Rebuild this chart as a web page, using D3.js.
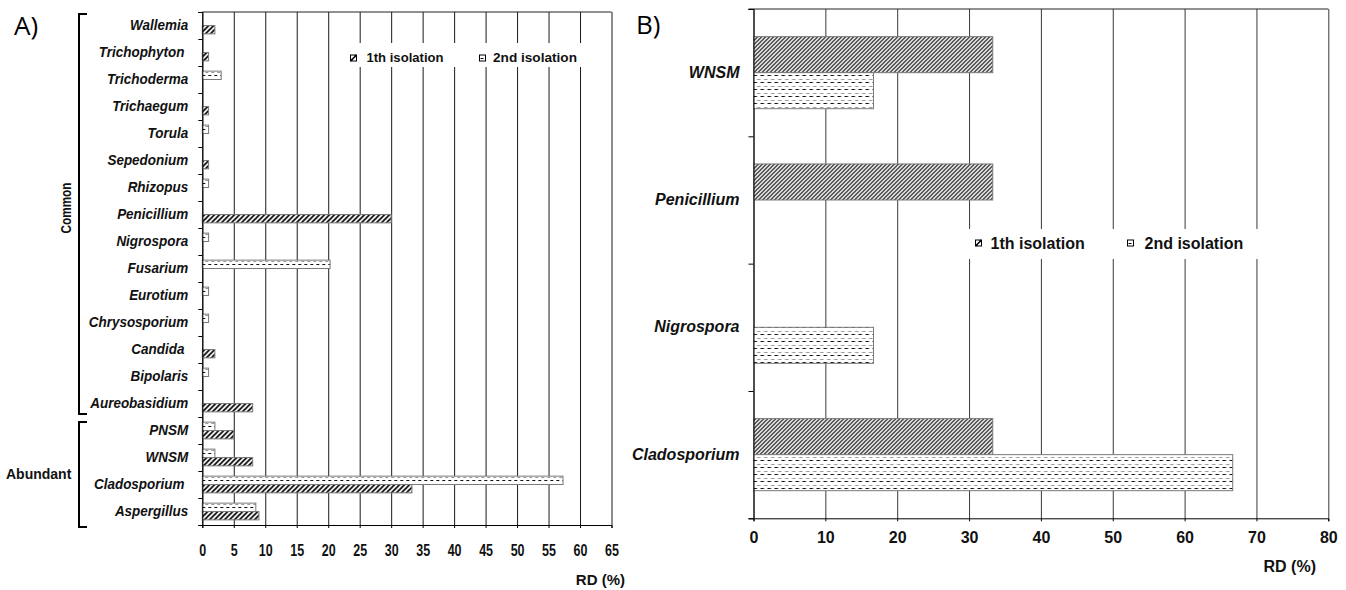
<!DOCTYPE html>
<html>
<head>
<meta charset="utf-8">
<script src="https://cdn.jsdelivr.net/npm/d3@7"></script>
<style>
  body { margin: 0; background: #fff; }
  svg { display: block; font-family: "Liberation Sans", Arial, sans-serif; }
  .lbl { white-space: pre; }
</style>
</head>
<body>
<script>
// panel A data (relative density, %)
var catsA = ['Wallemia', 'Trichophyton ', 'Trichoderma', 'Trichaegum', 'Torula', 'Sepedonium',
    'Rhizopus', 'Penicillium', 'Nigrospora', 'Fusarium', 'Eurotium', 'Chrysosporium', 'Candida ',
    'Bipolaris', 'Aureobasidium', 'PNSM', 'WNSM', 'Cladosporium ', 'Aspergillus'];
var firstA = [2, 1, 0, 1, 0, 1, 0, 30, 0, 0, 0, 0, 2, 0, 8, 5, 8, 33.3, 9];
var secondA = [0, 0, 3, 0, 1, 0, 1, 0, 1, 20.3, 1, 1, 0, 1, 0, 2, 2, 57.3, 8.5];
var ticksA = d3.range(0, 66, 5);
var groupsA = [{name: 'Common', from: 'Wallemia', to: 'Aureobasidium'},
    {name: 'Abundant', from: 'PNSM', to: 'Aspergillus'}];

// panel B data
var catsB = ['WNSM', 'Penicillium', 'Nigrospora', 'Cladosporium'];
var firstB = [33.3, 33.3, 0, 33.3];
var secondB = [16.7, 0, 16.7, 66.7];
var ticksB = d3.range(0, 81, 10);

var seriesNames = ['1th isolation', '2nd isolation'];

var svg = d3.select('body').append('svg')
    .attr('width', 1346)
    .attr('height', 590);

// fill patterns
var defs = svg.append('defs');
function hatch(id, s, lw) {
    var p = defs.append('pattern')
        .attr('id', id)
        .attr('patternUnits', 'userSpaceOnUse')
        .attr('width', s).attr('height', s);
    p.append('rect').attr('width', s).attr('height', s).attr('fill', '#fff');
    p.append('path')
        .attr('d', 'M0,' + s + 'L' + s + ',0M' + (-s / 2) + ',' + (s / 2) + 'L' + (s / 2) + ',' + (-s / 2) +
            'M' + (s / 2) + ',' + (s * 1.5) + 'L' + (s * 1.5) + ',' + (s / 2))
        .attr('stroke', '#000').attr('stroke-width', lw);
}
function dashes(id, w, h, blackY, grayY) {
    var p = defs.append('pattern')
        .attr('id', id)
        .attr('patternUnits', 'userSpaceOnUse')
        .attr('width', w).attr('height', h);
    p.append('rect').attr('width', w).attr('height', h).attr('fill', '#fff');
    p.append('rect').attr('x', 0).attr('y', blackY).attr('width', w / 2).attr('height', 1).attr('fill', '#111');
    p.append('rect').attr('x', w / 2).attr('y', grayY).attr('width', w / 2).attr('height', 1).attr('fill', '#9a9a9a');
}
hatch('hatchA', 5, 1.6);
hatch('hatchB', 4, 1.2);
dashes('dashA', 6, 9, 0, 6);
dashes('dashB', 7, 7, 3, 0);

svg.append('rect').attr('width', 1346).attr('height', 590).attr('fill', '#fff');

// ---------- Panel A ----------
var A = {l: 202.3, r: 611.5, t: 12, b: 525};
A.w = A.r - A.l;
A.h = A.b - A.t;

var gA = svg.append('g').attr('transform', 'translate(' + [A.l, A.t] + ')');

var xA = d3.scaleLinear().domain([0, 65]).range([0, A.w]);
var yA = d3.scaleBand().domain(catsA).range([0, A.h]);
var subA = d3.scaleBand().domain(['2nd', '1th'])
    .range([yA.bandwidth() * 0.19, yA.bandwidth() * 0.81]);

gA.append('g')
    .attr('class', 'grid')
    .call(d3.axisTop(xA).tickValues(ticksA).tickSize(-A.h).tickFormat(''))
    .call(function(g) { g.select('.domain').remove(); })
    .selectAll('line').attr('stroke', '#1a1a1a');

gA.append('line').attr('x1', 0).attr('x2', A.w).attr('y1', 0).attr('y2', 0).attr('stroke', '#222');

var legA = svg.append('g');
legA.append('rect').attr('x', 345).attr('y', 43).attr('width', 245).attr('height', 24).attr('fill', '#fff');

var rowsA = catsA.map(function(c, i) { return {cat: c, s1: firstA[i], s2: secondA[i]}; });

gA.selectAll('.bar1')
    .data(rowsA.filter(function(d) { return d.s1 > 0; }))
    .enter().append('rect')
    .attr('class', 'bar1')
    .attr('x', 0)
    .attr('y', function(d) { return yA(d.cat) + subA('1th'); })
    .attr('width', function(d) { return xA(d.s1); })
    .attr('height', subA.bandwidth())
    .attr('fill', 'url(#hatchA)')
    .attr('stroke', '#7a7a7a').attr('stroke-width', 1);

gA.selectAll('.bar2')
    .data(rowsA.filter(function(d) { return d.s2 > 0; }))
    .enter().append('rect')
    .attr('class', 'bar2')
    .attr('x', 0)
    .attr('y', function(d) { return yA(d.cat) + subA('2nd'); })
    .attr('width', function(d) { return xA(d.s2); })
    .attr('height', subA.bandwidth())
    .attr('fill', 'url(#dashA)')
    .attr('stroke', '#7a7a7a').attr('stroke-width', 1);

// x axis
var xAxisA = gA.append('g')
    .attr('transform', 'translate(0,' + A.h + ')')
    .call(d3.axisBottom(xA).tickValues(ticksA).tickSize(3).tickPadding(17));
xAxisA.attr('font-size', null).attr('font-family', null);
xAxisA.selectAll('text')
    .attr('font-size', 16).attr('font-weight', 'bold').attr('fill', '#111')
    .attr('transform', 'scale(0.78,1)');

// y axis: boundary ticks + labels
var idxA = d3.scaleLinear().domain([0, catsA.length]).range([0, A.h]);
gA.append('g')
    .call(d3.axisLeft(idxA).ticks(catsA.length).tickSize(4).tickFormat(''))
    .call(function(g) { g.select('.domain').attr('stroke', '#000'); });

var labScale = 0.9;
var yAxisA = gA.append('g')
    .call(d3.axisLeft(yA).tickSize(0).tickPadding(14));
yAxisA.select('.domain').remove();
yAxisA.attr('font-size', null).attr('font-family', null);
yAxisA.selectAll('text')
    .attr('class', 'lbl')
    .attr('x', -14 / labScale)
    .attr('transform', 'scale(' + labScale + ',1)')
    .attr('font-size', 15).attr('font-weight', 'bold').attr('font-style', 'italic').attr('fill', '#111');

gA.append('text')
    .attr('x', 625 - A.l).attr('y', 585 - A.t)
    .attr('text-anchor', 'end')
    .attr('font-size', 15).attr('font-weight', 'bold').attr('fill', '#111')
    .text('RD (%)');

// group brackets
var bracketPad = [[2, -3], [5, 2]];
groupsA.forEach(function(grp, i) {
    var y1 = A.t + yA(grp.from) + bracketPad[i][0];
    var y2 = A.t + yA(grp.to) + yA.bandwidth() + bracketPad[i][1];
    svg.append('path')
        .attr('d', 'M87,' + y1 + 'H79V' + y2 + 'H87')
        .attr('fill', 'none').attr('stroke', '#000').attr('stroke-width', 2);
});
svg.append('text')
    .attr('transform', 'translate(71,208) rotate(-90)')
    .attr('text-anchor', 'middle')
    .attr('font-size', 15).attr('font-weight', 'bold').attr('fill', '#111')
    .attr('textLength', 51).attr('lengthAdjust', 'spacingAndGlyphs')
    .text(groupsA[0].name);
svg.append('text')
    .attr('x', 6).attr('y', 479)
    .attr('font-size', 14).attr('font-weight', 'bold').attr('fill', '#111')
    .text(groupsA[1].name);

// legend A
function legendSym(g, x, y, s, kind) {
    g.append('rect').attr('x', x).attr('y', y).attr('width', s).attr('height', s)
        .attr('fill', '#fff').attr('stroke', '#000').attr('stroke-width', 1);
    if (kind === 0) {
        g.append('path').attr('d', 'M' + x + ',' + (y + s) + 'L' + (x + s) + ',' + y)
            .attr('stroke', '#000').attr('stroke-width', 1.6);
        g.append('path').attr('d', 'M' + x + ',' + (y + s) + 'h2.5L' + x + ',' + (y + s - 2.5) + 'Z').attr('fill', '#000');
        g.append('path').attr('d', 'M' + (x + s) + ',' + y + 'h-2.5L' + (x + s) + ',' + (y + 2.5) + 'Z').attr('fill', '#000');
    } else {
        g.append('line').attr('x1', x + 1).attr('x2', x + s - 2).attr('y1', y + s / 2 + 0.5).attr('y2', y + s / 2 + 0.5)
            .attr('stroke', '#000').attr('stroke-width', 1);
    }
}
legendSym(legA, 350.5, 55, 6, 0);
legA.append('text').attr('x', 366.5).attr('y', 61.5)
    .attr('font-size', 13.5).attr('font-weight', 'bold').attr('fill', '#111')
    .attr('textLength', 77).attr('lengthAdjust', 'spacingAndGlyphs').text(seriesNames[0]);
legendSym(legA, 479.5, 55, 6, 1);
legA.append('text').attr('x', 493).attr('y', 61.5)
    .attr('font-size', 13.5).attr('font-weight', 'bold').attr('fill', '#111')
    .attr('textLength', 84).attr('lengthAdjust', 'spacingAndGlyphs').text(seriesNames[1]);

svg.append('text').attr('x', 14).attr('y', 35)
    .attr('font-family', '"Open Sans", sans-serif').attr('font-size', 26).attr('fill', '#000')
    .text('A)');

// ---------- Panel B ----------
var B = {l: 753.5, r: 1328.3, t: 9, b: 518.3};
B.w = B.r - B.l;
B.h = B.b - B.t;

var gB = svg.append('g').attr('transform', 'translate(' + [B.l, B.t] + ')');

var xB = d3.scaleLinear().domain([0, 80]).range([0, B.w]);
var yB = d3.scaleBand().domain(catsB).range([0, B.h]);
var subB = d3.scaleBand().domain(['1th', '2nd'])
    .range([yB.bandwidth() * 0.217, yB.bandwidth() * 0.783]);

gB.append('g')
    .call(d3.axisTop(xB).tickValues(ticksB).tickSize(-B.h).tickFormat(''))
    .call(function(g) { g.select('.domain').remove(); })
    .selectAll('line').attr('stroke', '#3a3a3a');

gB.append('line').attr('x1', -5).attr('x2', B.w).attr('y1', 0).attr('y2', 0).attr('stroke', '#222');

var legB = svg.append('g');
legB.append('rect').attr('x', 964).attr('y', 229).attr('width', 298).attr('height', 30).attr('fill', '#fff');

var rowsB = catsB.map(function(c, i) { return {cat: c, s1: firstB[i], s2: secondB[i]}; });

gB.selectAll('.bar1')
    .data(rowsB.filter(function(d) { return d.s1 > 0; }))
    .enter().append('rect')
    .attr('class', 'bar1')
    .attr('x', 0)
    .attr('y', function(d) { return yB(d.cat) + subB('1th'); })
    .attr('width', function(d) { return xB(d.s1); })
    .attr('height', subB.bandwidth())
    .attr('fill', 'url(#hatchB)')
    .attr('stroke', '#7a7a7a').attr('stroke-width', 1);

gB.selectAll('.bar2')
    .data(rowsB.filter(function(d) { return d.s2 > 0; }))
    .enter().append('rect')
    .attr('class', 'bar2')
    .attr('x', 0)
    .attr('y', function(d) { return yB(d.cat) + subB('2nd'); })
    .attr('width', function(d) { return xB(d.s2); })
    .attr('height', subB.bandwidth())
    .attr('fill', 'url(#dashB)')
    .attr('stroke', '#7a7a7a').attr('stroke-width', 1);

var xAxisB = gB.append('g')
    .attr('transform', 'translate(0,' + B.h + ')')
    .call(d3.axisBottom(xB).tickValues(ticksB).tickSize(3).tickPadding(10));
xAxisB.attr('font-size', null).attr('font-family', null);
xAxisB.selectAll('text')
    .attr('font-size', 16).attr('font-weight', 'bold').attr('fill', '#111');

var idxB = d3.scaleLinear().domain([0, catsB.length]).range([0, B.h]);
gB.append('g')
    .call(d3.axisLeft(idxB).ticks(catsB.length).tickSize(5).tickFormat(''))
    .call(function(g) { g.select('.domain').attr('stroke', '#000'); });

var yAxisB = gB.append('g')
    .call(d3.axisLeft(yB).tickSize(0).tickPadding(14));
yAxisB.select('.domain').remove();
yAxisB.attr('font-size', null).attr('font-family', null);
yAxisB.selectAll('text')
    .attr('font-size', 16).attr('font-weight', 'bold').attr('font-style', 'italic').attr('fill', '#111');

gB.append('text')
    .attr('x', 1316 - B.l).attr('y', 572 - B.t)
    .attr('text-anchor', 'end')
    .attr('font-size', 16).attr('font-weight', 'bold').attr('fill', '#111')
    .text('RD (%)');

legendSym(legB, 975.5, 240, 6, 0);
legB.append('text').attr('x', 990.5).attr('y', 249)
    .attr('font-size', 16).attr('font-weight', 'bold').attr('fill', '#111').text(seriesNames[0]);
legendSym(legB, 1127.5, 240, 6, 1);
legB.append('text').attr('x', 1144.5).attr('y', 249)
    .attr('font-size', 16).attr('font-weight', 'bold').attr('fill', '#111').text(seriesNames[1]);

svg.append('text').attr('x', 636).attr('y', 34)
    .attr('font-family', '"Open Sans", sans-serif').attr('font-size', 26).attr('fill', '#000')
    .text('B)');
</script>
</body>
</html>
